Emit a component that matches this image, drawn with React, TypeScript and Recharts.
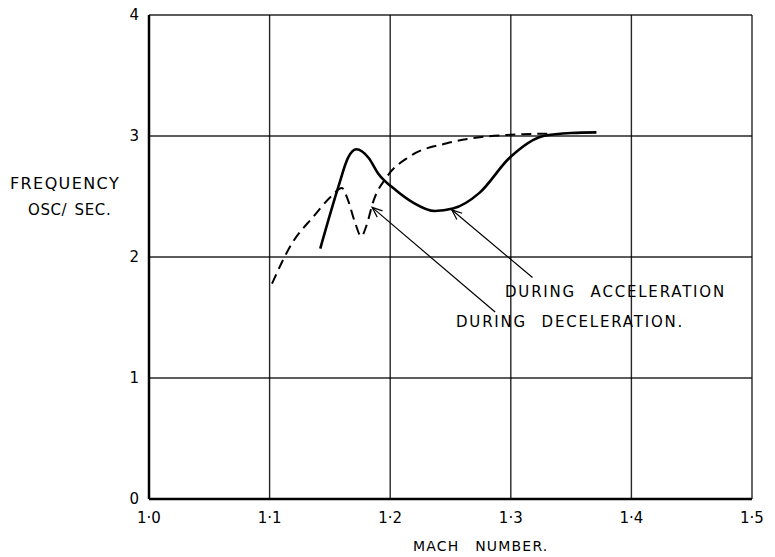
import React from "react"
import { LineChart, Line, XAxis, YAxis, CartesianGrid, ReferenceLine } from "recharts"

// acceleration run (solid)
const accelMach = [1.142, 1.157, 1.165, 1.172, 1.182, 1.19, 1.205, 1.219, 1.237, 1.252, 1.274, 1.299, 1.327, 1.35, 1.371]
const accelFreq = [2.07, 2.58, 2.82, 2.89, 2.82, 2.69, 2.55, 2.45, 2.38, 2.4, 2.53, 2.82, 3.0, 3.025, 3.03]

// deceleration run (dashed)
const decelMach = [1.102, 1.119, 1.136, 1.151, 1.16, 1.165, 1.171, 1.176, 1.18, 1.186, 1.197, 1.216, 1.247, 1.274, 1.3, 1.335]
const decelFreq = [1.78, 2.12, 2.33, 2.5, 2.57, 2.47, 2.28, 2.17, 2.25, 2.46, 2.66, 2.83, 2.94, 2.99, 3.01, 3.02]

const machTicks = [1.0, 1.1, 1.2, 1.3, 1.4, 1.5]
const freqTicks = [0, 1, 2, 3, 4]

const accelData = accelMach.map((x, i) => ({ x, y: accelFreq[i] }))
const decelData = decelMach.map((x, i) => ({ x, y: decelFreq[i] }))

const font = "'DejaVu Sans', sans-serif"

function Arrow(props: any) {
  const { x1, y1, x2, y2 } = props
  const a = Math.atan2(y2 - y1, x2 - x1)
  const len = 11
  const spread = 0.38
  const p1x = x2 - len * Math.cos(a - spread)
  const p1y = y2 - len * Math.sin(a - spread)
  const p2x = x2 - len * Math.cos(a + spread)
  const p2y = y2 - len * Math.sin(a + spread)
  return (
    <g>
      <line x1={x1} y1={y1} x2={x2} y2={y2} stroke="#000" strokeWidth={1.2} />
      <polyline points={`${p1x},${p1y} ${x2},${y2} ${p2x},${p2y}`} fill="none" stroke="#000" strokeWidth={1.2} />
    </g>
  )
}

export default function App() {
  return (
    <div style={{ position: "absolute", left: 0, top: 0, width: 775, height: 557, background: "#fff" }}>
      <LineChart width={775} height={557} margin={{ top: 15, right: 23, left: 0, bottom: 0 }}>
        <CartesianGrid stroke="#000" strokeWidth={1.4} strokeOpacity={0.85} />
        <XAxis
          type="number"
          dataKey="x"
          domain={[1.0, 1.5]}
          ticks={machTicks}
          height={58}
          allowDataOverflow
          tickLine={false}
          axisLine={{ stroke: "#000", strokeWidth: 2.5 }}
          tickFormatter={(v: number) => v.toFixed(1).replace(".", "·")}
          tick={{ fill: "#000", fontSize: 15, fontFamily: font }}
          tickMargin={7}
        />
        <YAxis
          type="number"
          dataKey="y"
          domain={[0, 4]}
          ticks={freqTicks}
          width={149}
          tickLine={false}
          axisLine={{ stroke: "#000", strokeWidth: 2.5 }}
          tick={{ fill: "#000", fontSize: 15, fontFamily: font }}
          tickMargin={4}
        />
        <Line
          data={decelData}
          dataKey="y"
          type="monotone"
          stroke="#000"
          strokeWidth={2}
          strokeDasharray="10 6"
          dot={false}
          isAnimationActive={false}
        />
        <Line
          data={accelData}
          dataKey="y"
          type="monotone"
          stroke="#000"
          strokeWidth={2.6}
          dot={false}
          isAnimationActive={false}
        />
        <ReferenceLine segment={[{ x: 1.318, y: 1.83 }, { x: 1.251, y: 2.39 }]} shape={Arrow} />
        <ReferenceLine segment={[{ x: 1.287, y: 1.545 }, { x: 1.185, y: 2.41 }]} shape={Arrow} />
      </LineChart>
      <svg width={775} height={557} style={{ position: "absolute", left: 0, top: 0, pointerEvents: "none" }}>
        <g fontFamily={font} fill="#000">
          <text x={10} y={189} fontSize={16} letterSpacing={1.4}>FREQUENCY</text>
          <text x={28} y={215} fontSize={15} letterSpacing={0.6} wordSpacing={2}>OSC/ SEC.</text>
          <text x={505} y={297} fontSize={15} letterSpacing={1.8} wordSpacing={8}>DURING ACCELERATION</text>
          <text x={456} y={327} fontSize={15} letterSpacing={1.8} wordSpacing={8}>DURING DECELERATION.</text>
          <text x={413} y={551} fontSize={14} letterSpacing={1.2} wordSpacing={10}>MACH NUMBER.</text>
        </g>
      </svg>
    </div>
  )
}
